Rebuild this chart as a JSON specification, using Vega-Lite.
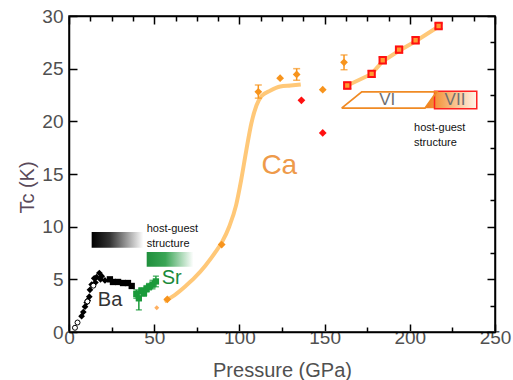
{
  "$schema": "https://vega.github.io/schema/vega-lite/v6.json",
  "width": 426,
  "height": 316,
  "autosize": {"type": "none"},
  "padding": {"left": 69, "top": 16, "right": 18, "bottom": 48},
  "background": "white",
  "config": {
    "view": {"stroke": "black", "strokeWidth": 1.5},
    "font": "Liberation Sans",
    "axis": {
      "domainColor": "black", "domainWidth": 1.5, "tickColor": "black", "tickWidth": 1.5,
      "grid": false, "labelFont": "Liberation Sans", "labelFontSize": 19, "labelColor": "#505050",
      "titleFont": "Liberation Sans", "titleFontSize": 20, "titleFontWeight": "normal", "titleColor": "#505050"
    }
  },
  "datasets": {
    "bbar": [{"x": 13.3, "x2": 43.6, "y": 8.0, "y2": 9.5}],
    "gbar": [{"x": 45.6, "x2": 73.0, "y": 6.2, "y2": 7.6}],
    "cafit": [
      {"p": 56, "t": 2.9}, {"p": 62, "t": 3.5}, {"p": 68, "t": 4.3}, {"p": 74, "t": 5.2}, {"p": 80, "t": 6.3},
      {"p": 86, "t": 7.6}, {"p": 90, "t": 8.6}, {"p": 94, "t": 10.0}, {"p": 98, "t": 12.0}, {"p": 101, "t": 14.4},
      {"p": 104, "t": 17.2}, {"p": 107, "t": 19.8}, {"p": 110, "t": 21.5}, {"p": 113, "t": 22.4}, {"p": 118, "t": 22.9},
      {"p": 124, "t": 23.3}, {"p": 130, "t": 23.4}, {"p": 136, "t": 23.5}
    ],
    "sqfit": [
      {"p": 163.3, "t": 23.4}, {"p": 177.6, "t": 24.5}, {"p": 184.1, "t": 25.7}, {"p": 193.7, "t": 26.7},
      {"p": 203.4, "t": 27.6}, {"p": 216.9, "t": 29.0}
    ],
    "vi": [
      {"o": 1, "p": 160, "t": 21.25}, {"o": 2, "p": 171.8, "t": 22.8}, {"o": 3, "p": 215.8, "t": 22.8},
      {"o": 4, "p": 208.9, "t": 21.25}, {"o": 5, "p": 160, "t": 21.25}
    ],
    "viifill": [
      {"p": 208.9, "t": 21.25, "t2": 21.25}, {"p": 215.8, "t": 22.8, "t2": 21.25}, {"p": 239.3, "t": 22.8, "t2": 21.25}
    ],
    "viirect": [{"x": 214.5, "x2": 239.3, "y": 21.2, "y2": 22.85}],
    "baRise": [
      {"p": 7.4, "t": 1.5}, {"p": 8.4, "t": 1.9}, {"p": 9.4, "t": 2.4}, {"p": 10.4, "t": 2.8}, {"p": 11.9, "t": 3.35},
      {"p": 12.3, "t": 4.0}, {"p": 13.3, "t": 4.5}, {"p": 15.5, "t": 4.7}, {"p": 16.2, "t": 5.2}, {"p": 17.8, "t": 5.6},
      {"p": 18.5, "t": 5.0}, {"p": 19.2, "t": 5.3}, {"p": 21.1, "t": 4.9}, {"p": 14.8, "t": 5.1}, {"p": 11.0, "t": 3.0}
    ],
    "baFlat": [
      {"p": 24.0, "t": 5.0}, {"p": 25.8, "t": 4.75}, {"p": 28.8, "t": 4.75}, {"p": 31.7, "t": 4.65},
      {"p": 34.6, "t": 4.65}, {"p": 36.8, "t": 4.37}
    ],
    "baOpen": [{"p": 3.5, "t": 0.4}, {"p": 5.0, "t": 0.9}, {"p": 10.8, "t": 2.9}, {"p": 14.3, "t": 4.4}],
    "sr": [
      {"p": 39.5, "t": 3.6, "lo": 3.2, "hi": 4.0}, {"p": 41.0, "t": 3.2, "lo": 2.1, "hi": 3.9},
      {"p": 42.5, "t": 3.9, "lo": 3.6, "hi": 4.2}, {"p": 44.0, "t": 3.7, "lo": 3.4, "hi": 4.0},
      {"p": 45.5, "t": 4.1, "lo": 3.8, "hi": 4.4}, {"p": 47.0, "t": 4.3, "lo": 4.0, "hi": 4.6},
      {"p": 49.0, "t": 4.5, "lo": 4.1, "hi": 4.9}, {"p": 51.0, "t": 4.8, "lo": 4.3, "hi": 5.3}
    ],
    "ca": [
      {"p": 57.7, "t": 3.1}, {"p": 89.6, "t": 8.3}, {"p": 111.1, "t": 22.8}, {"p": 123.9, "t": 24.1},
      {"p": 133.6, "t": 24.45}, {"p": 148.9, "t": 23.0}, {"p": 161.4, "t": 25.6}
    ],
    "caSmall": [{"p": 51.5, "t": 2.3}],
    "caErr": [
      {"p": 111.1, "lo": 22.2, "hi": 23.45}, {"p": 133.6, "lo": 23.9, "hi": 25.0}, {"p": 161.4, "lo": 24.9, "hi": 26.3}
    ],
    "redDia": [{"p": 136.4, "t": 22.0}, {"p": 148.9, "t": 18.9}],
    "redSq": [
      {"p": 163.3, "t": 23.4, "lo": 23.1, "hi": 23.7}, {"p": 177.6, "t": 24.5, "lo": 24.2, "hi": 24.8},
      {"p": 184.1, "t": 25.8, "lo": 25.5, "hi": 26.1}, {"p": 193.7, "t": 26.8, "lo": 26.5, "hi": 27.1},
      {"p": 203.4, "t": 27.7, "lo": 27.4, "hi": 28.0}, {"p": 216.9, "t": 29.05, "lo": 28.8, "hi": 29.3}
    ],
    "lblBa": [{"p": 24.1, "t": 3.0, "s": "Ba"}],
    "lblSr": [{"p": 60.3, "t": 5.1, "s": "Sr"}],
    "lblCa": [{"p": 123.4, "t": 15.8, "s": "Ca"}],
    "lblRoman": [{"p": 186.8, "t": 22.0, "s": "VI"}, {"p": 226.5, "t": 22.0, "s": "VII"}],
    "lblHG": [{"p": 45.6, "t": 9.8, "s": "host-guest\nstructure"}, {"p": 202.5, "t": 19.4, "s": "host-guest\nstructure"}]
  },
  "resolve": {"axis": {"x": "independent", "y": "independent"}},
  "layer": [
    {
      "layer": [
        {
          "data": {"name": "bbar"},
          "mark": {"type": "rect", "fill": {"gradient": "linear", "x1": 0, "y1": 0, "x2": 1, "y2": 0,
            "stops": [{"offset": 0, "color": "#000000"}, {"offset": 0.35, "color": "#333333"}, {"offset": 1, "color": "#ffffff"}]}},
          "encoding": {
            "x": {"field": "x", "type": "quantitative", "title": "Pressure (GPa)",
              "scale": {"domain": [0, 250], "nice": false, "zero": false},
              "axis": {"orient": "bottom", "title": "Pressure (GPa)",
                "values": [0, 12.5, 25, 37.5, 50, 62.5, 75, 87.5, 100, 112.5, 125, 137.5, 150, 162.5, 175, 187.5, 200, 212.5, 225, 237.5, 250],
                "labelExpr": "datum.value % 50 === 0 ? datum.label : ''",
                "tickSize": {"condition": {"test": "datum.value % 50 === 0", "value": -8}, "value": -5},
                "labelPadding": 4, "labelFlush": false, "titleBaseline": "alphabetic", "titleY": 44}},
            "x2": {"field": "x2"},
            "y": {"field": "y", "type": "quantitative", "title": "Tc (K)",
              "scale": {"domain": [0, 30], "nice": false, "zero": false},
              "axis": {"orient": "left", "title": "Tc (K)",
                "values": [0, 2.5, 5, 7.5, 10, 12.5, 15, 17.5, 20, 22.5, 25, 27.5, 30],
                "labelExpr": "datum.value % 5 === 0 ? datum.label : ''",
                "tickSize": {"condition": {"test": "datum.value % 5 === 0", "value": -8}, "value": -5},
                "labelPadding": 14, "labelFlush": false, "titleColor": "#5a4a5a",
                "titleBaseline": "alphabetic", "titleX": -36, "titleY": 171, "titleAngle": -90}},
            "y2": {"field": "y2"}
          }
        },
        {
          "data": {"name": "gbar"},
          "mark": {"type": "rect", "fill": {"gradient": "linear", "x1": 0, "y1": 0, "x2": 1, "y2": 0,
            "stops": [{"offset": 0, "color": "#1f8f3c"}, {"offset": 0.4, "color": "#3aa555"}, {"offset": 1, "color": "#ffffff"}]}},
          "encoding": {"x": {"field": "x", "type": "quantitative", "title": "Pressure (GPa)"}, "x2": {"field": "x2"},
            "y": {"field": "y", "type": "quantitative", "title": "Tc (K)"}, "y2": {"field": "y2"}}
        },
        {
          "data": {"name": "cafit"},
          "mark": {"type": "line", "color": "#ffc878", "strokeWidth": 4, "interpolate": "monotone"},
          "encoding": {"x": {"field": "p", "type": "quantitative", "title": "Pressure (GPa)"}, "y": {"field": "t", "type": "quantitative", "title": "Tc (K)"}}
        },
        {
          "data": {"name": "sqfit"},
          "mark": {"type": "line", "color": "#ffc878", "strokeWidth": 4},
          "encoding": {"x": {"field": "p", "type": "quantitative", "title": "Pressure (GPa)"}, "y": {"field": "t", "type": "quantitative", "title": "Tc (K)"}}
        },
        {
          "data": {"name": "viifill"},
          "mark": {"type": "area", "fill": {"gradient": "linear", "x1": 0, "y1": 0, "x2": 1, "y2": 0,
            "stops": [{"offset": 0, "color": "#f07a18"}, {"offset": 0.3, "color": "#f5a050"}, {"offset": 1, "color": "#fff4ea"}]}},
          "encoding": {"x": {"field": "p", "type": "quantitative", "title": "Pressure (GPa)"}, "y": {"field": "t", "type": "quantitative", "title": "Tc (K)"}, "y2": {"field": "t2"}}
        },
        {
          "data": {"name": "viirect"},
          "mark": {"type": "rect", "fill": null, "stroke": "#ff2020", "strokeWidth": 1.5},
          "encoding": {"x": {"field": "x", "type": "quantitative", "title": "Pressure (GPa)"}, "x2": {"field": "x2"},
            "y": {"field": "y", "type": "quantitative", "title": "Tc (K)"}, "y2": {"field": "y2"}}
        },
        {
          "data": {"name": "vi"},
          "mark": {"type": "line", "color": "#f08a24", "strokeWidth": 1.8},
          "encoding": {"x": {"field": "p", "type": "quantitative", "title": "Pressure (GPa)"}, "y": {"field": "t", "type": "quantitative", "title": "Tc (K)"},
            "order": {"field": "o", "type": "quantitative"}}
        },
        {
          "data": {"name": "sr"},
          "mark": {"type": "errorbar", "ticks": {"size": 6}, "color": "#1a9a3a", "thickness": 1.5},
          "encoding": {"x": {"field": "p", "type": "quantitative", "title": "Pressure (GPa)"}, "y": {"field": "lo", "type": "quantitative", "title": "Tc (K)"}, "y2": {"field": "hi"}}
        },
        {
          "data": {"name": "caErr"},
          "mark": {"type": "errorbar", "ticks": {"size": 7}, "color": "#f7941d", "thickness": 1.5},
          "encoding": {"x": {"field": "p", "type": "quantitative", "title": "Pressure (GPa)"}, "y": {"field": "lo", "type": "quantitative", "title": "Tc (K)"}, "y2": {"field": "hi"}}
        },
        {
          "data": {"name": "redSq"},
          "mark": {"type": "errorbar", "ticks": {"size": 8}, "color": "#ff1010", "thickness": 1.5},
          "encoding": {"x": {"field": "p", "type": "quantitative", "title": "Pressure (GPa)"}, "y": {"field": "lo", "type": "quantitative", "title": "Tc (K)"}, "y2": {"field": "hi"}}
        },
        {
          "data": {"name": "baRise"},
          "mark": {"type": "point", "shape": "diamond", "filled": true, "color": "#000000", "size": 45, "opacity": 1},
          "encoding": {"x": {"field": "p", "type": "quantitative", "title": "Pressure (GPa)"}, "y": {"field": "t", "type": "quantitative", "title": "Tc (K)"}}
        },
        {
          "data": {"name": "baFlat"},
          "mark": {"type": "point", "shape": "square", "filled": true, "color": "#000000", "size": 40, "opacity": 1},
          "encoding": {"x": {"field": "p", "type": "quantitative", "title": "Pressure (GPa)"}, "y": {"field": "t", "type": "quantitative", "title": "Tc (K)"}}
        },
        {
          "data": {"name": "baOpen"},
          "mark": {"type": "point", "shape": "circle", "filled": true, "fill": "white", "stroke": "black", "strokeWidth": 1, "size": 25, "opacity": 1},
          "encoding": {"x": {"field": "p", "type": "quantitative", "title": "Pressure (GPa)"}, "y": {"field": "t", "type": "quantitative", "title": "Tc (K)"}}
        },
        {
          "data": {"name": "sr"},
          "mark": {"type": "point", "shape": "square", "filled": true, "color": "#1a9a3a", "size": 40, "opacity": 1},
          "encoding": {"x": {"field": "p", "type": "quantitative", "title": "Pressure (GPa)"}, "y": {"field": "t", "type": "quantitative", "title": "Tc (K)"}}
        },
        {
          "data": {"name": "caSmall"},
          "mark": {"type": "point", "shape": "diamond", "filled": true, "color": "#ffb060", "size": 25, "opacity": 1},
          "encoding": {"x": {"field": "p", "type": "quantitative", "title": "Pressure (GPa)"}, "y": {"field": "t", "type": "quantitative", "title": "Tc (K)"}}
        },
        {
          "data": {"name": "ca"},
          "mark": {"type": "point", "shape": "diamond", "filled": true, "color": "#f7941d", "size": 60, "opacity": 1},
          "encoding": {"x": {"field": "p", "type": "quantitative", "title": "Pressure (GPa)"}, "y": {"field": "t", "type": "quantitative", "title": "Tc (K)"}}
        },
        {
          "data": {"name": "redDia"},
          "mark": {"type": "point", "shape": "diamond", "filled": true, "color": "#ff1010", "size": 60, "opacity": 1},
          "encoding": {"x": {"field": "p", "type": "quantitative", "title": "Pressure (GPa)"}, "y": {"field": "t", "type": "quantitative", "title": "Tc (K)"}}
        },
        {
          "data": {"name": "redSq"},
          "mark": {"type": "point", "shape": "square", "filled": true, "fill": "#ff9a30", "stroke": "#ff1010", "strokeWidth": 2, "size": 40, "opacity": 1},
          "encoding": {"x": {"field": "p", "type": "quantitative", "title": "Pressure (GPa)"}, "y": {"field": "t", "type": "quantitative", "title": "Tc (K)"}}
        },
        {
          "data": {"name": "lblBa"},
          "mark": {"type": "text", "fontSize": 20, "color": "#333333", "align": "center", "baseline": "middle"},
          "encoding": {"x": {"field": "p", "type": "quantitative", "title": "Pressure (GPa)"}, "y": {"field": "t", "type": "quantitative", "title": "Tc (K)"}, "text": {"field": "s"}}
        },
        {
          "data": {"name": "lblSr"},
          "mark": {"type": "text", "fontSize": 20, "color": "#1a8a3a", "align": "center", "baseline": "middle"},
          "encoding": {"x": {"field": "p", "type": "quantitative", "title": "Pressure (GPa)"}, "y": {"field": "t", "type": "quantitative", "title": "Tc (K)"}, "text": {"field": "s"}}
        },
        {
          "data": {"name": "lblCa"},
          "mark": {"type": "text", "fontSize": 28, "color": "#ee9a4a", "align": "center", "baseline": "middle"},
          "encoding": {"x": {"field": "p", "type": "quantitative", "title": "Pressure (GPa)"}, "y": {"field": "t", "type": "quantitative", "title": "Tc (K)"}, "text": {"field": "s"}}
        },
        {
          "data": {"name": "lblRoman"},
          "mark": {"type": "text", "fontSize": 17, "color": "#707070", "align": "center", "baseline": "middle"},
          "encoding": {"x": {"field": "p", "type": "quantitative", "title": "Pressure (GPa)"}, "y": {"field": "t", "type": "quantitative", "title": "Tc (K)"}, "text": {"field": "s"}}
        },
        {
          "data": {"name": "lblHG"},
          "mark": {"type": "text", "fontSize": 11, "color": "#111111", "align": "left", "baseline": "middle", "lineBreak": "\n", "lineHeight": 15},
          "encoding": {"x": {"field": "p", "type": "quantitative", "title": "Pressure (GPa)"}, "y": {"field": "t", "type": "quantitative", "title": "Tc (K)"}, "text": {"field": "s"}}
        }
      ]
    },
    {
      "data": {"name": "caSmall"},
      "mark": {"type": "point", "opacity": 0},
      "encoding": {
        "x": {"field": "p", "type": "quantitative",
          "axis": {"orient": "top", "title": null, "labels": false,
            "values": [0, 12.5, 25, 37.5, 50, 62.5, 75, 87.5, 100, 112.5, 125, 137.5, 150, 162.5, 175, 187.5, 200, 212.5, 225, 237.5, 250],
            "tickSize": {"condition": {"test": "datum.value % 50 === 0", "value": -8}, "value": -5}}},
        "y": {"field": "t", "type": "quantitative",
          "axis": {"orient": "right", "title": null, "labels": false,
            "values": [0, 2.5, 5, 7.5, 10, 12.5, 15, 17.5, 20, 22.5, 25, 27.5, 30],
            "tickSize": {"condition": {"test": "datum.value % 5 === 0", "value": -8}, "value": -5}}}
      }
    }
  ]
}
